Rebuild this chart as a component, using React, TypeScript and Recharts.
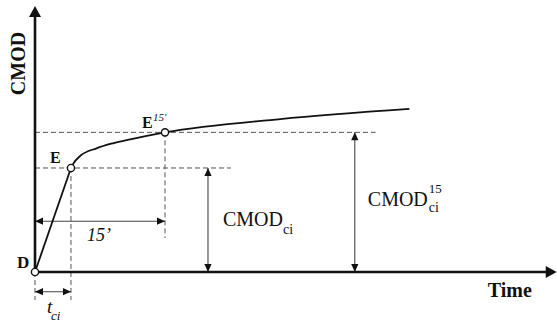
import React from 'react';
import { ComposedChart, Line, XAxis, YAxis, ReferenceLine, ReferenceDot } from 'recharts';

// ---- data (time in arbitrary minutes, CMOD in arbitrary units) ----
const rampTime = [0, 4.15];
const rampCmod = [0, 39.1];
const creepTime = [4.15, 4.45, 5.2, 7.1, 9.0, 11.0, 12.9, 15, 28.3, 43.2];
const creepCmod = [39.1, 40.9, 43.6, 46.5, 48.4, 49.9, 51.2, 52.5, 57.5, 61.3];

const T_CI = 4.15;
const CMOD_CI = 39.1;
const T_15 = 15;
const CMOD_15 = 52.5;
const TIME_END = 60.2;
const CMOD_END = 100;

const ARROW_CI_T = 19.96;
const ARROW_15_T = 36.9;
const ARROW_DUR_Y = 19.1;
const ARROW_TCI_Y = -7.4;
const GUIDE_LOW_Y = -10.5;
const GUIDE_15_LOW_Y = 12.8;
const HGUIDE_15_END = 39.3;
const HGUIDE_CI_END = 22.6;

const rampData = rampTime.map((t, i) => ({ t, c: rampCmod[i] }));
const creepData = creepTime.map((t, i) => ({ t, c: creepCmod[i] }));

const FONT = '"Liberation Serif", "Times New Roman", serif';

function head(tx: number, ty: number, ux: number, uy: number, L: number, Wd: number) {
  const bx = tx - ux * L;
  const by = ty - uy * L;
  return `${tx},${ty} ${bx - uy * Wd},${by + ux * Wd} ${bx + uy * Wd},${by - ux * Wd}`;
}

const AxisArrow = (p: any) => {
  const { x1, y1, x2, y2 } = p;
  const dx = x2 - x1, dy = y2 - y1;
  const len = Math.hypot(dx, dy) || 1;
  const ux = dx / len, uy = dy / len;
  const L = 11, Wd = 6;
  return (
    <g>
      <line x1={x1} y1={y1} x2={x2 - ux * (L - 1)} y2={y2 - uy * (L - 1)} stroke="#111" strokeWidth={2.6} />
      <polygon points={head(x2, y2, ux, uy, L, Wd)} fill="#111" />
    </g>
  );
};

const DoubleArrow = (p: any) => {
  const { x1, y1, x2, y2 } = p;
  const dx = x2 - x1, dy = y2 - y1;
  const len = Math.hypot(dx, dy) || 1;
  const ux = dx / len, uy = dy / len;
  const L = 8, Wd = 3.6;
  return (
    <g>
      <line x1={x1} y1={y1} x2={x2} y2={y2} stroke="#444" strokeWidth={1.1} />
      <polygon points={head(x2, y2, ux, uy, L, Wd)} fill="#111" />
      <polygon points={head(x1, y1, -ux, -uy, L, Wd)} fill="#111" />
    </g>
  );
};

const note = (render: (cx: number, cy: number) => React.ReactElement) => (p: any) => render(p.cx, p.cy);

export default function App() {
  const dash = '5 3';
  return (
    <div style={{ position: 'absolute', left: 0, top: 0, width: 557, height: 324, background: '#fff' }}>
      <ComposedChart width={557} height={324} margin={{ top: 6, right: 2, bottom: 52, left: 35 }}>
        <XAxis type="number" dataKey="t" domain={[0, 60]} hide allowDataOverflow />
        <YAxis type="number" dataKey="c" domain={[0, 100]} hide allowDataOverflow />

        {/* dashed guides */}
        <ReferenceLine ifOverflow="visible" segment={[{ x: 0, y: CMOD_15 }, { x: HGUIDE_15_END, y: CMOD_15 }]} stroke="#555" strokeDasharray={dash} strokeWidth={1} />
        <ReferenceLine ifOverflow="visible" segment={[{ x: 0, y: CMOD_CI }, { x: HGUIDE_CI_END, y: CMOD_CI }]} stroke="#555" strokeDasharray={dash} strokeWidth={1} />
        <ReferenceLine ifOverflow="visible" segment={[{ x: T_CI, y: CMOD_CI }, { x: T_CI, y: GUIDE_LOW_Y }]} stroke="#555" strokeDasharray={dash} strokeWidth={1} />
        <ReferenceLine ifOverflow="visible" segment={[{ x: T_15, y: CMOD_15 }, { x: T_15, y: GUIDE_15_LOW_Y }]} stroke="#555" strokeDasharray={dash} strokeWidth={1} />
        <ReferenceLine ifOverflow="visible" segment={[{ x: 0, y: 0 }, { x: 0, y: GUIDE_LOW_Y }]} stroke="#555" strokeDasharray={dash} strokeWidth={1} />

        {/* dimension arrows */}
        <ReferenceLine ifOverflow="visible" segment={[{ x: 0, y: ARROW_DUR_Y }, { x: T_15, y: ARROW_DUR_Y }]} shape={DoubleArrow} />
        <ReferenceLine ifOverflow="visible" segment={[{ x: 0, y: ARROW_TCI_Y }, { x: T_CI, y: ARROW_TCI_Y }]} shape={DoubleArrow} />
        <ReferenceLine ifOverflow="visible" segment={[{ x: ARROW_CI_T, y: 0 }, { x: ARROW_CI_T, y: CMOD_CI }]} shape={DoubleArrow} />
        <ReferenceLine ifOverflow="visible" segment={[{ x: ARROW_15_T, y: 0 }, { x: ARROW_15_T, y: CMOD_15 }]} shape={DoubleArrow} />

        {/* axes */}
        <ReferenceLine ifOverflow="visible" segment={[{ x: 0, y: 0 }, { x: TIME_END, y: 0 }]} shape={AxisArrow} />
        <ReferenceLine ifOverflow="visible" segment={[{ x: 0, y: 0 }, { x: 0, y: CMOD_END }]} shape={AxisArrow} />

        {/* curve */}
        <Line data={rampData} dataKey="c" type="linear" stroke="#111" strokeWidth={1.8} dot={false} isAnimationActive={false} />
        <Line data={creepData} dataKey="c" type="monotone" stroke="#111" strokeWidth={1.8} dot={false} isAnimationActive={false} />

        {/* points */}
        <ReferenceDot ifOverflow="visible" x={0} y={0} r={3.6} fill="#fff" stroke="#111" strokeWidth={1.4} />
        <ReferenceDot ifOverflow="visible" x={T_CI} y={CMOD_CI} r={3.6} fill="#fff" stroke="#111" strokeWidth={1.4} />
        <ReferenceDot ifOverflow="visible" x={T_15} y={CMOD_15} r={3.6} fill="#fff" stroke="#111" strokeWidth={1.4} />

        {/* text annotations */}
        <ReferenceDot ifOverflow="visible" x={0} y={0} r={0} shape={note((cx, cy) => (
          <text x={cx - 18} y={cy - 4} fontFamily={FONT} fontWeight="bold" fontSize={17} fill="#111">D</text>
        ))} />
        <ReferenceDot ifOverflow="visible" x={T_CI} y={CMOD_CI} r={0} shape={note((cx, cy) => (
          <text x={cx - 21} y={cy - 5} fontFamily={FONT} fontWeight="bold" fontSize={16} fill="#111">E</text>
        ))} />
        <ReferenceDot ifOverflow="visible" x={T_15} y={CMOD_15} r={0} shape={note((cx, cy) => (
          <g>
            <text x={cx - 23} y={cy - 4} fontFamily={FONT} fontWeight="bold" fontSize={16} fill="#111">E</text>
            <text x={cx - 12} y={cy - 11} fontFamily={FONT} fontStyle="italic" fontSize={11} fill="#111">15'</text>
          </g>
        ))} />
        <ReferenceDot ifOverflow="visible" x={0} y={ARROW_DUR_Y} r={0} shape={note((cx, cy) => (
          <text x={cx + 52} y={cy + 20} fontFamily={FONT} fontStyle="italic" fontSize={18} fill="#111">15’</text>
        ))} />
        <ReferenceDot ifOverflow="visible" x={0} y={ARROW_TCI_Y} r={0} shape={note((cx, cy) => (
          <g>
            <text x={cx + 12} y={cy + 21} fontFamily={FONT} fontStyle="italic" fontSize={19} fill="#111">t</text>
            <text x={cx + 16} y={cy + 28} fontFamily={FONT} fontStyle="italic" fontSize={13} fill="#111">ci</text>
          </g>
        ))} />
        <ReferenceDot ifOverflow="visible" x={ARROW_CI_T} y={0} r={0} shape={note((cx, cy) => (
          <text x={cx + 15} y={cy - 46} fontFamily={FONT} fontSize={20} fill="#111">
            CMOD<tspan dy={8} fontSize={14}>ci</tspan>
          </text>
        ))} />
        <ReferenceDot ifOverflow="visible" x={ARROW_15_T} y={0} r={0} shape={note((cx, cy) => (
          <g>
            <text x={cx + 13} y={cy - 66} fontFamily={FONT} fontSize={20} fill="#111">CMOD</text>
            <text x={cx + 74} y={cy - 79} fontFamily={FONT} fontSize={13} fill="#111">15</text>
            <text x={cx + 74} y={cy - 60} fontFamily={FONT} fontSize={14} fill="#111">ci</text>
          </g>
        ))} />
        <ReferenceDot ifOverflow="visible" x={TIME_END} y={0} r={0} shape={note((cx, cy) => (
          <text x={cx - 69} y={cy + 25} fontFamily={FONT} fontWeight="bold" fontSize={20} fill="#111">Time</text>
        ))} />
        <ReferenceDot ifOverflow="visible" x={0} y={CMOD_END} r={0} shape={note((cx, cy) => (
          <text x={cx - 10} y={cy + 57.5} transform={`rotate(-90 ${cx - 10} ${cy + 57.5})`} textAnchor="middle" fontFamily={FONT} fontWeight="bold" fontSize={20} fill="#111">CMOD</text>
        ))} />
      </ComposedChart>
    </div>
  );
}
